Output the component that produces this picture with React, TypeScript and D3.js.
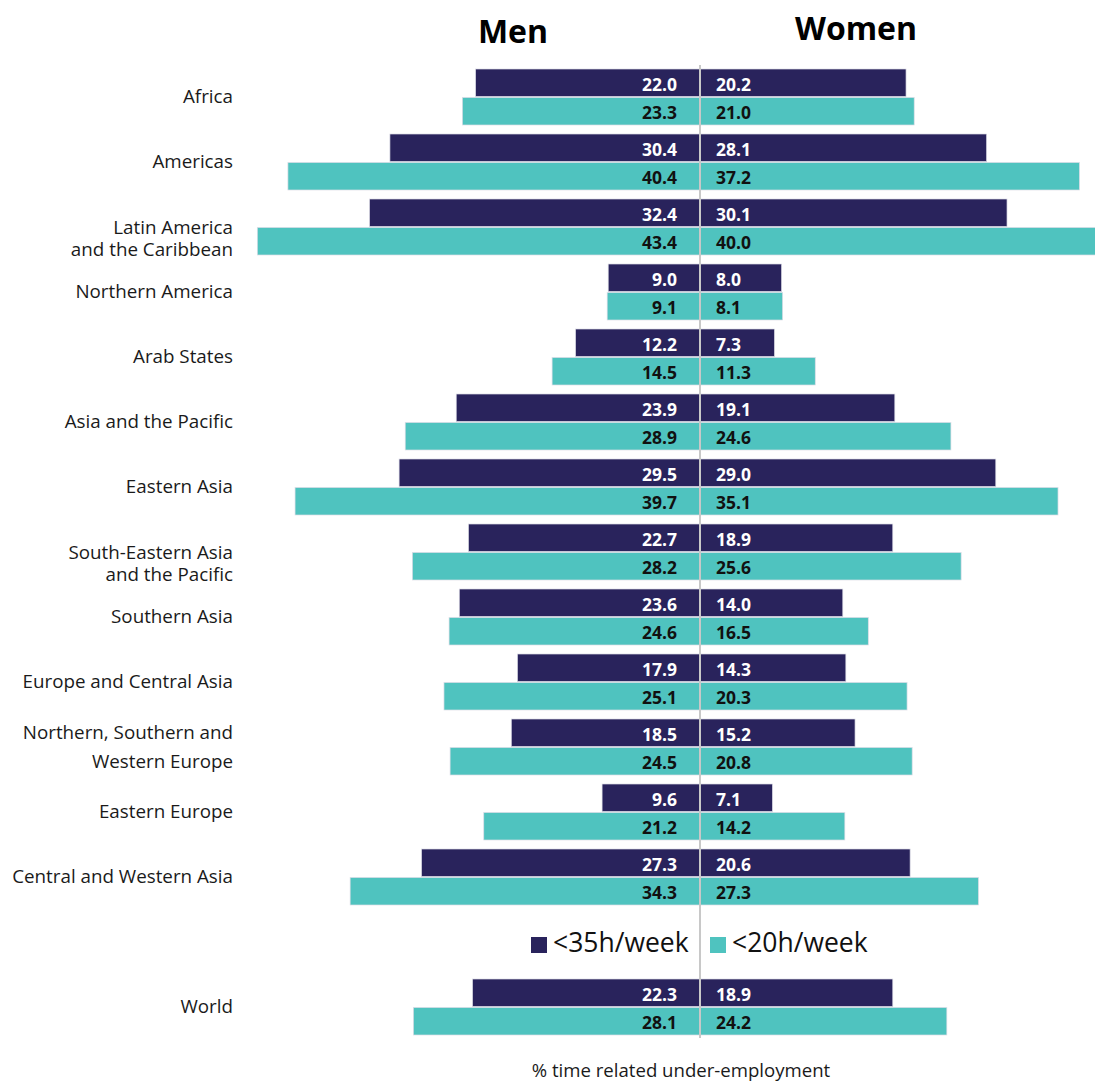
import React from "react";
import * as d3 from "d3";

const categories = [
  "Africa",
  "Americas",
  "Latin America and the Caribbean",
  "Northern America",
  "Arab States",
  "Asia and the Pacific",
  "Eastern Asia",
  "South-Eastern Asia and the Pacific",
  "Southern Asia",
  "Europe and Central Asia",
  "Northern, Southern and Western Europe",
  "Eastern Europe",
  "Central and Western Asia",
  "World",
];

const labelLines: string[][] = [
  ["Africa"],
  ["Americas"],
  ["Latin America", "and the Caribbean"],
  ["Northern America"],
  ["Arab States"],
  ["Asia and the Pacific"],
  ["Eastern Asia"],
  ["South-Eastern Asia", "and the Pacific"],
  ["Southern Asia"],
  ["Europe and Central Asia"],
  ["Northern, Southern and", "Western Europe"],
  ["Eastern Europe"],
  ["Central and Western Asia"],
  ["World"],
];

const men35 = [22.0, 30.4, 32.4, 9.0, 12.2, 23.9, 29.5, 22.7, 23.6, 17.9, 18.5, 9.6, 27.3, 22.3];
const men20 = [23.3, 40.4, 43.4, 9.1, 14.5, 28.9, 39.7, 28.2, 24.6, 25.1, 24.5, 21.2, 34.3, 28.1];
const women35 = [20.2, 28.1, 30.1, 8.0, 7.3, 19.1, 29.0, 18.9, 14.0, 14.3, 15.2, 7.1, 20.6, 18.9];
const women20 = [21.0, 37.2, 40.0, 8.1, 11.3, 24.6, 35.1, 25.6, 16.5, 20.3, 20.8, 14.2, 27.3, 24.2];

const seriesKeys = ["<35h/week", "<20h/week"];
const sexTitles = ["Men", "Women"];
const axisTitle = "% time related under-employment";

const DARK = "#29235c";
const TEAL = "#4fc3bf";
const FONT = "'Open Sans', 'Noto Sans', sans-serif";

export default function App() {
  const W = 1095;
  const H = 1081;
  const cx = 700;
  const LEGEND = "__legend__";
  const slots = [...categories.slice(0, 13), LEGEND, categories[13]];

  const y = d3
    .scaleBand<string>()
    .domain(slots)
    .range([69, 1035])
    .paddingInner(9 / 65)
    .paddingOuter(0);

  const yInner = d3
    .scaleBand<string>()
    .domain(seriesKeys)
    .range([0, y.bandwidth()])
    .paddingInner(0.035)
    .paddingOuter(0);

  const xMen = d3.scaleLinear().domain([0, 50]).range([cx, cx - 510]);
  const xWomen = d3.scaleLinear().domain([0, 50]).range([cx, cx + 510]);

  const colors = [DARK, TEAL];
  const labelColors = ["#ffffff", "#111111"];

  const lineOffsets = (name: string, n: number): number[] => {
    if (n === 1) return [6];
    if (name.startsWith("Northern, Southern")) return [-8, 21];
    return [7, 29];
  };

  const bh = yInner.bandwidth();

  return (
    <div style={{ position: "absolute", left: 0, top: 0, width: W, height: H, overflow: "hidden", background: "#fff" }}>
      <svg width={W} height={H} style={{ display: "block", fontFamily: FONT }}>
        <rect x={0} y={0} width={W} height={H} fill="#ffffff" />
        <text x={513} y={43} textAnchor="middle" fontSize={32} fontWeight={700} fill="#000">
          {sexTitles[0]}
        </text>
        <text x={856} y={40} textAnchor="middle" fontSize={32} fontWeight={700} fill="#000">
          {sexTitles[1]}
        </text>

        {categories.map((cat, i) => {
          const y0 = y(cat) as number;
          const menVals = [men35[i], men20[i]];
          const womenVals = [women35[i], women20[i]];
          const center = y0 + y.bandwidth() / 2;
          const lines = labelLines[i];
          const offs = lineOffsets(cat, lines.length);
          return (
            <g key={cat}>
              {seriesKeys.map((s, j) => {
                const by = y0 + (yInner(s) as number);
                const mv = menVals[j];
                const wv = womenVals[j];
                return (
                  <g key={s}>
                    <rect
                      x={xMen(mv)}
                      y={by}
                      width={cx - xMen(mv)}
                      height={bh}
                      fill={colors[j]}
                      stroke="#dcdce6"
                      strokeWidth={0.7}
                    />
                    <rect
                      x={cx}
                      y={by}
                      width={xWomen(wv) - cx}
                      height={bh}
                      fill={colors[j]}
                      stroke="#dcdce6"
                      strokeWidth={0.7}
                    />
                    <text
                      x={cx - 23}
                      y={by + bh / 2 + 8}
                      textAnchor="end"
                      fontSize={17.5}
                      fontWeight={700}
                      fill={labelColors[j]}
                    >
                      {mv.toFixed(1)}
                    </text>
                    <text
                      x={cx + 16}
                      y={by + bh / 2 + 8}
                      textAnchor="start"
                      fontSize={17.5}
                      fontWeight={700}
                      fill={labelColors[j]}
                    >
                      {wv.toFixed(1)}
                    </text>
                  </g>
                );
              })}
              {lines.map((ln, k) => (
                <text
                  key={k}
                  x={233}
                  y={center + offs[k]}
                  textAnchor="end"
                  fontSize={18.8}
                  fill="#1a1a1a"
                >
                  {ln}
                </text>
              ))}
            </g>
          );
        })}

        <line x1={cx} x2={cx} y1={65} y2={1038} stroke="#c8c8c8" strokeWidth={2} />

        {(() => {
          const ly = (y(LEGEND) as number) + y.bandwidth() / 2;
          const items = [
            { x: 531, label: seriesKeys[0], color: DARK },
            { x: 710, label: seriesKeys[1], color: TEAL },
          ];
          return (
            <g>
              {items.map((it) => (
                <g key={it.label}>
                  <rect x={it.x} y={ly - 5} width={16} height={16} fill={it.color} />
                  <text x={it.x + 22} y={ly + 10} fontSize={26.5} fill="#111">
                    {it.label}
                  </text>
                </g>
              ))}
            </g>
          );
        })()}

        <text x={681} y={1077} textAnchor="middle" fontSize={18.6} fill="#1a1a1a">
          {axisTitle}
        </text>
      </svg>
    </div>
  );
}
